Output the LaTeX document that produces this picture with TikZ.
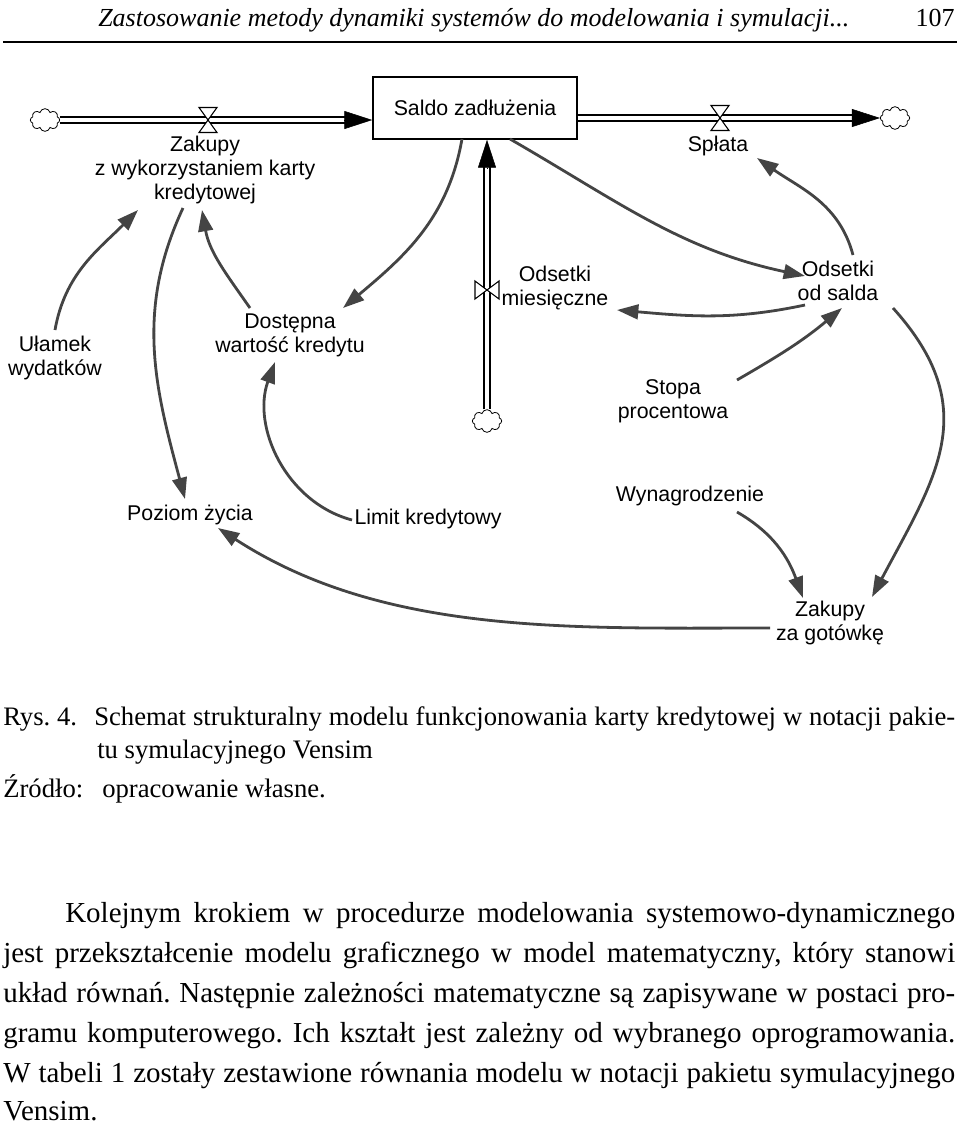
\documentclass[tikz,border=0pt]{standalone}
\usepackage{fontspec}
\setmainfont{Liberation Serif}
\newfontfamily\diafont{Liberation Sans}
\usetikzlibrary{shapes}
\usetikzlibrary{arrows.meta}
\definecolor{linkgray}{RGB}{68,68,68}
\frenchspacing
\tikzset{
    auxnode/.style = {align=center, inner sep=0pt, font=\diafont\fontsize{16pt}{18pt}\selectfont, text=black},
    stockbox/.style = {rectangle, draw=black, line width=1.1pt, fill=white, minimum width=153pt, minimum height=46.5pt, font=\diafont\fontsize{16pt}{18pt}\selectfont},
    cloudnode/.style = {cloud, cloud puffs=8, aspect=1.3, draw=black, line width=0.6pt, fill=white, minimum width=22pt, minimum height=17pt, inner sep=0pt},
    pipe/.style = {draw=black, line width=1.2pt, double=white, double distance=3.2pt},
    pipehead/.style = {-{Triangle[length=21pt,width=13.5pt]}, line width=0.4pt, black},
    valve/.style = {draw=black, line width=0.8pt, fill=white, line join=miter},
    link/.style = {-{Triangle[length=16pt,width=11pt]}, line width=2.1pt, linkgray},
    headtext/.style = {inner sep=0pt, font=\rmfamily\fontsize{19.5pt}{22pt}\selectfont},
    headrule/.style = {line width=1.3pt, black},
    captext/.style = {inner sep=0pt, anchor=base west, font=\rmfamily\fontsize{20pt}{26pt}\selectfont},
    bodytext/.style = {inner sep=0pt, anchor=base west, font=\rmfamily\fontsize{21.75pt}{30pt}\selectfont}
}

\begin{document}
\begin{tikzpicture}[x=0.75pt, y=0.75pt, font=\diafont]

  \useasboundingbox (0,0) rectangle (960,-1125);

  % header
  \node[headtext, anchor=base west] (title) at (98,-26) {\itshape Zastosowanie metody dynamiki systemów do modelowania i symulacji...};
  \node[headtext, anchor=base east] (page) at (955,-26) {107};
  \coordinate (ruleL) at (3,-42);
  \coordinate (ruleR) at (957,-42);
  \draw[headrule] (ruleL) -- (ruleR);

  % stock, clouds and flows
  \node[stockbox] (saldo) at (475,-108) {Saldo zadłużenia};
  \node[cloudnode] (cloudL) at (45,-120) {};
  \node[cloudnode] (cloudR) at (895,-118) {};
  \node[cloudnode] (cloudB) at (487,-421) {};

  \draw[pipe] (cloudL.east) -- ([shift={(-26,-12)}]saldo.west);
  \draw[pipehead] ([shift={(-28,-12)}]saldo.west) -- ([shift={(0,-12)}]saldo.west);
  \draw[pipe] ([shift={(0,-10)}]saldo.east) -- ([shift={(-26,0)}]cloudR.west);
  \draw[pipehead] ([shift={(-28,0)}]cloudR.west) -- (cloudR.west);
  \draw[pipe] (cloudB.north) -- ([shift={(12,-26)}]saldo.south);
  \draw[pipehead] ([shift={(12,-28)}]saldo.south) -- ([shift={(12,0)}]saldo.south);

  \coordinate (vZak) at (208,-120);
  \coordinate (vSpl) at (720,-118);
  \coordinate (vOds) at (487,-290);
  \draw[valve] (vZak) -- ++(-9,12.5) -- ++(18,0) -- cycle;
  \draw[valve] (vZak) -- ++(-9,-12.5) -- ++(18,0) -- cycle;
  \draw[valve] (vSpl) -- ++(-9,12.5) -- ++(18,0) -- cycle;
  \draw[valve] (vSpl) -- ++(-9,-12.5) -- ++(18,0) -- cycle;
  \draw[valve] (vOds) -- ++(-12,9) -- ++(0,-18) -- cycle;
  \draw[valve] (vOds) -- ++(12,9) -- ++(0,-18) -- cycle;

  % variables
  \node[auxnode] (zakupyK) at (205,-170) {Zakupy\\z wykorzystaniem karty\\kredytowej};
  \node[auxnode] (splata) at (718,-146) {Spłata};
  \node[auxnode] (odsMies) at (555,-288) {Odsetki\\miesięczne};
  \node[auxnode] (ulamek) at (55,-358) {Ułamek\\wydatków};
  \node[auxnode] (dostepna) at (290,-335) {Dostępna\\wartość kredytu};
  \node[auxnode] (odsSalda) at (838,-281) {Odsetki\\od salda};
  \node[auxnode] (stopa) at (673,-401) {Stopa\\procentowa};
  \node[auxnode] (poziom) at (190,-515) {Poziom życia};
  \node[auxnode] (limit) at (428,-519) {Limit kredytowy};
  \node[auxnode] (wynagr) at (690,-496) {Wynagrodzenie};
  \node[auxnode] (zakGot) at (830,-623) {Zakupy\\za gotówkę};

  % causal links
  \draw[link] ([shift={(0,28)}]ulamek.center) to[out=80,in=225] ([shift={(-67,-40)}]zakupyK.center);
  \draw[link] ([shift={(-22,-38)}]zakupyK.center) to[out=245,in=105] ([shift={(-5,16)}]poziom.center);
  \draw[link] ([shift={(-40,27)}]dostepna.center) to[out=125,in=-80] ([shift={(-3,-40)}]zakupyK.center);
  \draw[link] ([shift={(-13,-31)}]saldo.center) to[out=-100,in=40] ([shift={(53,27)}]dostepna.center);
  \draw[link] ([shift={(-76,-1)}]limit.center) to[out=165,in=-110] ([shift={(-15,-27)}]dostepna.center);
  \draw[link] ([shift={(35,-31)}]saldo.center) to[out=-30,in=168] ([shift={(-33,5)}]odsSalda.center);
  \draw[link] ([shift={(15,26)}]odsSalda.center) to[out=105,in=-35] ([shift={(39,-12)}]splata.center);
  \draw[link] ([shift={(-33,-24)}]odsSalda.center) to[out=192,in=-5] ([shift={(62,-22)}]odsMies.center);
  \draw[link] ([shift={(64,21)}]stopa.center) to[out=30,in=220] ([shift={(4,-27)}]odsSalda.center);
  \draw[link] ([shift={(55,-27)}]odsSalda.center) to[out=-48,in=62,looseness=1.2] ([shift={(42,26)}]zakGot.center);
  \draw[link] ([shift={(47,-16)}]wynagr.center) to[out=-30,in=110] ([shift={(-27,25)}]zakGot.center);
  \draw[link] ([shift={(-60,-5)}]zakGot.center) to[out=180,in=-33,looseness=0.9] ([shift={(28,-13)}]poziom.center);

  % caption
  \node[captext] (rys) at (3,-725) {Rys. 4.};
  \node[captext] (cap1) at (94,-725) {\makebox[645.75pt][s]{Schemat strukturalny modelu funkcjonowania karty kredytowej w notacji pakie-}};
  \node[captext] (cap2) at (97,-758) {tu symulacyjnego Vensim};
  \node[captext] (zrodlo) at (3,-797) {Źródło:};
  \node[captext] (cap3) at (102,-797) {opracowanie własne.};

  % body text
  \node[bodytext] (line1) at (65,-922) {\makebox[667.5pt][s]{Kolejnym krokiem w procedurze modelowania systemowo-dynamicznego}};
  \node[bodytext] (line2) at (3,-962) {\makebox[714pt][s]{jest przekształcenie modelu graficznego w model matematyczny, który stanowi}};
  \node[bodytext] (line3) at (3,-1002) {\makebox[714pt][s]{układ równań. Następnie zależności matematyczne są zapisywane w postaci pro-}};
  \node[bodytext] (line4) at (3,-1042) {\makebox[714pt][s]{gramu komputerowego. Ich kształt jest zależny od wybranego oprogramowania.}};
  \node[bodytext] (line5) at (3,-1082) {\makebox[714pt][s]{W tabeli 1 zostały zestawione równania modelu w notacji pakietu symulacyjnego}};
  \node[bodytext] (line6) at (3,-1120) {Vensim.};

\end{tikzpicture}
\end{document}
